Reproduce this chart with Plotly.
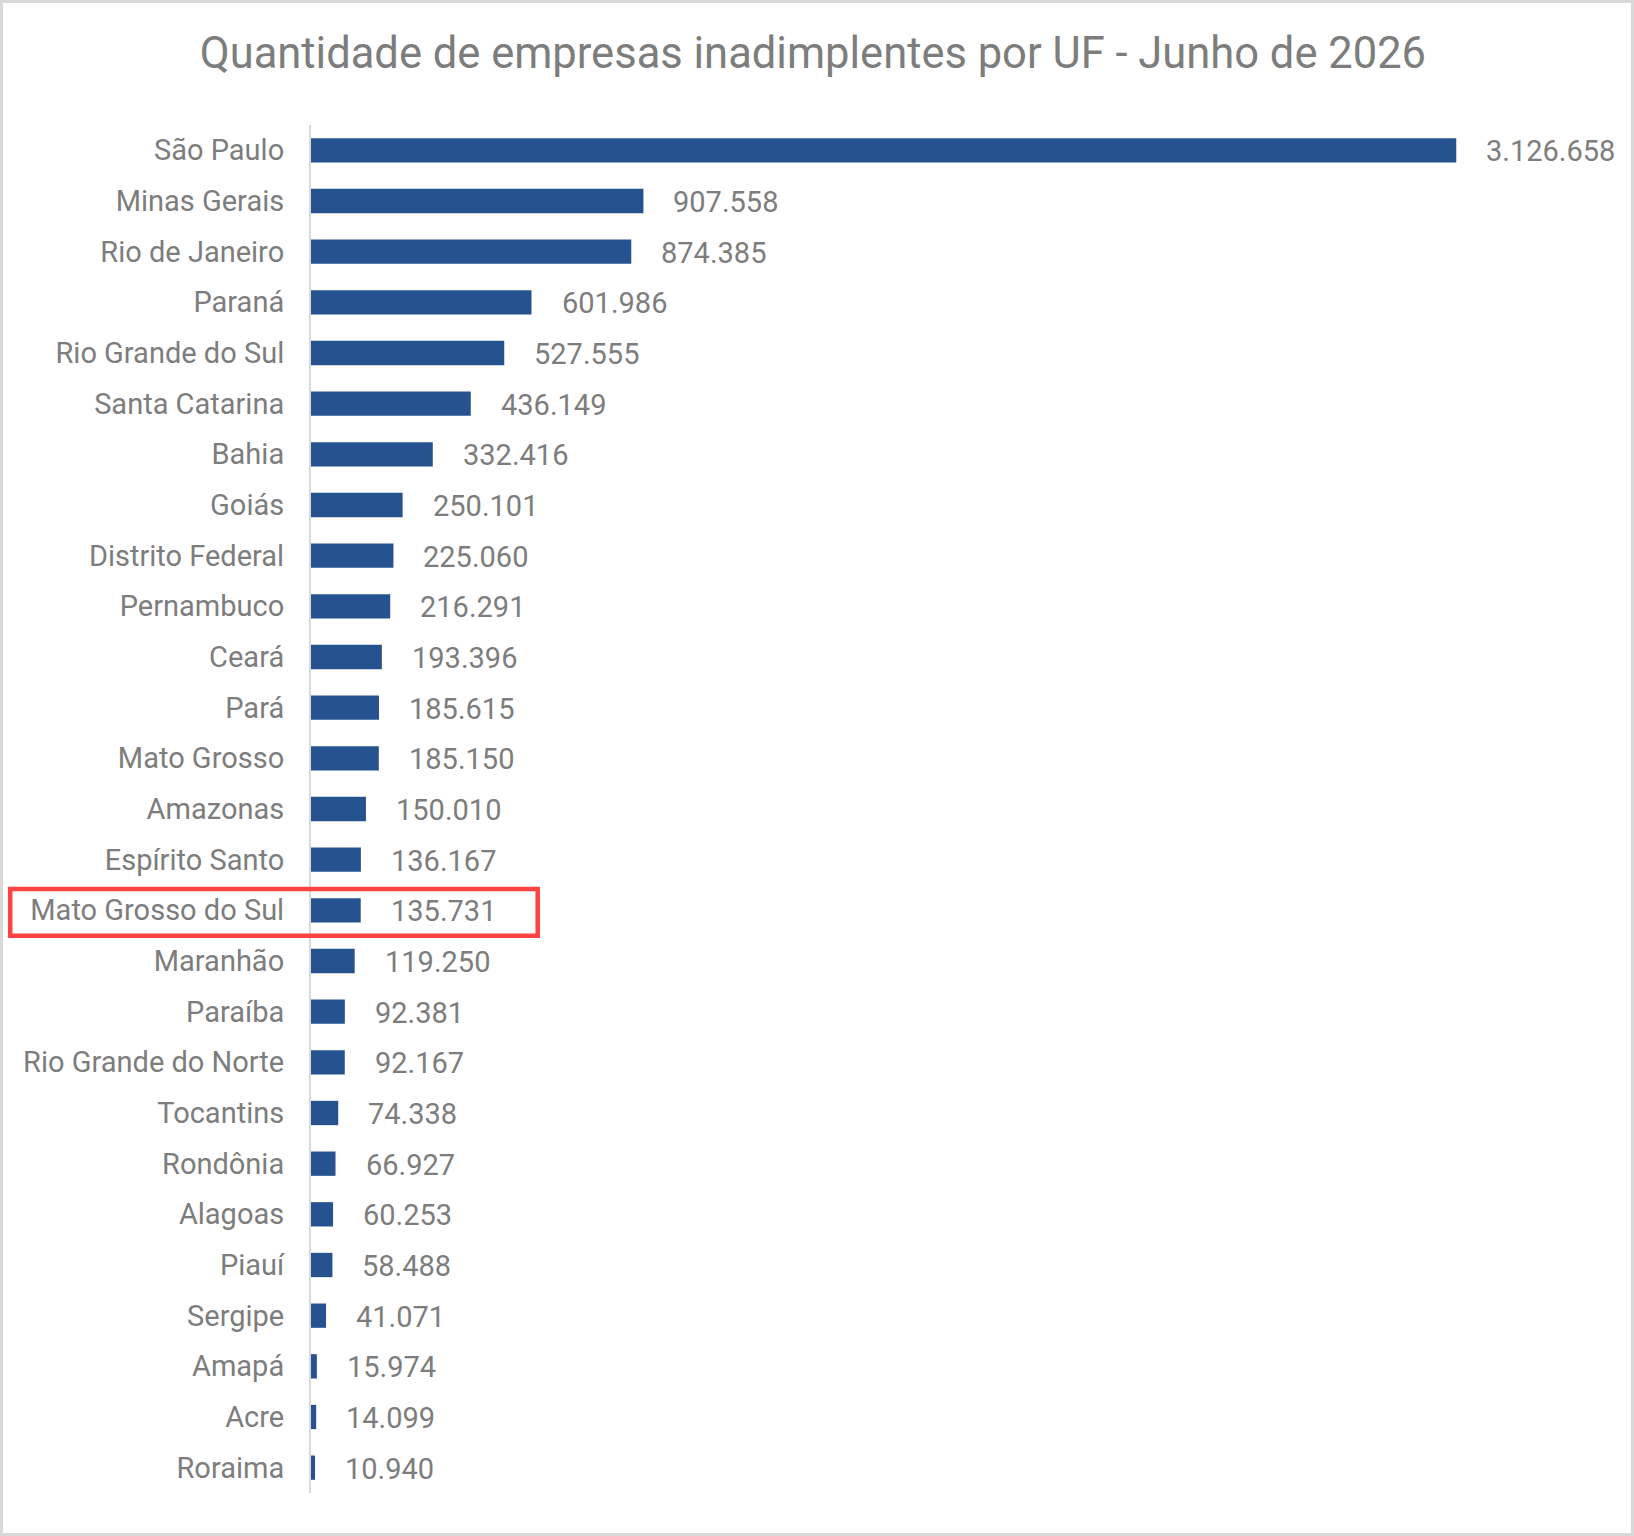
import plotly.graph_objects as go

# Quantidade de empresas inadimplentes por UF (jun/2026)
estados = [
    "São Paulo", "Minas Gerais", "Rio de Janeiro", "Paraná", "Rio Grande do Sul",
    "Santa Catarina", "Bahia", "Goiás", "Distrito Federal", "Pernambuco",
    "Ceará", "Pará", "Mato Grosso", "Amazonas", "Espírito Santo",
    "Mato Grosso do Sul", "Maranhão", "Paraíba", "Rio Grande do Norte", "Tocantins",
    "Rondônia", "Alagoas", "Piauí", "Sergipe", "Amapá", "Acre", "Roraima",
]
empresas = [
    3126658, 907558, 874385, 601986, 527555,
    436149, 332416, 250101, 225060, 216291,
    193396, 185615, 185150, 150010, 136167,
    135731, 119250, 92381, 92167, 74338,
    66927, 60253, 58488, 41071, 15974, 14099, 10940,
]
destaque = "Mato Grosso do Sul"


def fmt_br(n):
    return f"{n:,}".replace(",", ".")


W, H = 1634, 1536
ML, MR, MT, MB = 311, 41, 125, 43
plot_w = W - ML - MR
plot_h = H - MT - MB

GRAY = "#7d7d7d"
BLUE = "#26538f"
FONT = "Roboto"

fig = go.Figure()
fig.add_trace(
    go.Bar(
        x=empresas,
        y=estados,
        orientation="h",
        marker=dict(color=BLUE, line=dict(width=0)),
        hoverinfo="x+y",
    )
)

# rótulos de dados à direita das barras
for est, val in zip(estados, empresas):
    fig.add_annotation(
        x=val, y=est, text=fmt_br(val), showarrow=False,
        xanchor="left", yanchor="middle", xshift=28, yshift=-1,
        font=dict(family=FONT, size=29, color=GRAY),
    )

# caixa vermelha em volta do estado em destaque
i = estados.index(destaque)
fig.add_shape(
    type="rect", xref="paper", yref="y",
    x0=(10.2 - ML) / plot_w, x1=(537.7 - ML) / plot_w,
    y0=i - 0.42, y1=i + 0.50,
    line=dict(color="#ff4242", width=4.5),
    fillcolor="rgba(0,0,0,0)",
)

# moldura cinza do gráfico
fig.add_shape(
    type="rect", xref="paper", yref="paper",
    x0=(1.5 - ML) / plot_w, x1=(W - 1.5 - ML) / plot_w,
    y0=-(MB - 1.5) / plot_h, y1=1 + (MT - 1.5) / plot_h,
    line=dict(color="#d9d9d9", width=3),
    fillcolor="rgba(0,0,0,0)", layer="below",
)

fig.update_layout(
    width=W,
    height=H,
    margin=dict(l=ML, r=MR, t=MT, b=MB, pad=0),
    paper_bgcolor="white",
    plot_bgcolor="white",
    showlegend=False,
    bargap=0.52,
    title=dict(
        text="Quantidade de empresas inadimplentes por UF - Junho de 2026",
        x=0.4975, xanchor="center", y=1 - 53 / H, yanchor="middle",
        font=dict(family=FONT, size=43.5, color=GRAY),
    ),
    xaxis=dict(
        range=[0, 3500000], showgrid=False, zeroline=False,
        showticklabels=False, showline=False, ticks="",
    ),
    yaxis=dict(
        autorange="reversed", showgrid=False, zeroline=False,
        showline=True, linecolor="#d9d9d9", linewidth=2,
        ticks="", ticklabelstandoff=19,
        tickfont=dict(family=FONT, size=29, color=GRAY),
    ),
)

# sem margem na página, para o gráfico ocupar a janela inteira
fig.write_html(
    "out.html",
    config={"displayModeBar": False},
    post_script="document.body.style.margin='0';",
)
